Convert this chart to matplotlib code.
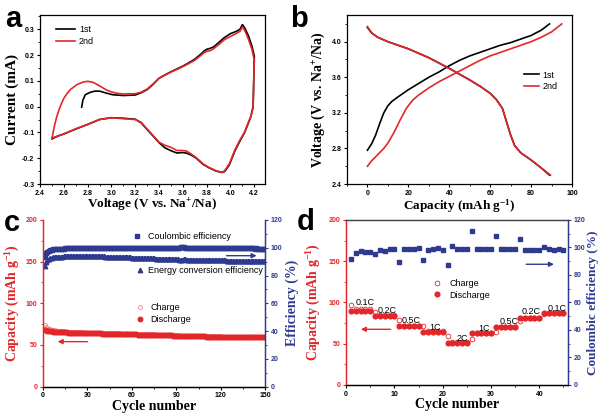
import matplotlib
matplotlib.use("Agg")
import matplotlib.pyplot as plt
from matplotlib.ticker import MultipleLocator

plt.rcParams['font.family'] = ['Liberation Sans', 'DejaVu Sans']
plt.rcParams['mathtext.fontset'] = 'custom'
plt.rcParams['mathtext.rm'] = 'Liberation Serif:bold'
plt.rcParams['mathtext.it'] = 'Liberation Serif:bold'
plt.rcParams['mathtext.bf'] = 'Liberation Serif:bold'
plt.rcParams['mathtext.default'] = 'rm'

RED = '#E3262A'
PINK = '#F08C8C'
BLUE = '#2E3A8F'

# ---------------- Panel a: CV data ----------------
cv1_v = [2.75, 2.76, 2.78, 2.82, 2.86, 2.90, 2.96, 3.01, 3.10, 3.20, 3.25, 3.30, 3.35, 3.40, 3.45,
         3.50, 3.55, 3.60, 3.65, 3.70, 3.75, 3.78, 3.80, 3.83, 3.86, 3.90, 3.95, 4.00, 4.05,
         4.08, 4.10, 4.12, 4.15, 4.18, 4.20, 4.195, 4.19, 4.17, 4.145, 4.117, 4.076, 4.034,
         3.99, 3.95, 3.93, 3.88, 3.82, 3.77, 3.71, 3.67, 3.63, 3.59, 3.55, 3.50, 3.45,
         3.40, 3.35, 3.30, 3.25, 3.20, 3.10, 3.00, 2.90, 2.80, 2.70, 2.60, 2.55, 2.50]
cv1_i = [-0.002, 0.025, 0.046, 0.055, 0.060, 0.060, 0.052, 0.046, 0.043, 0.045, 0.054, 0.066,
         0.086, 0.110, 0.123, 0.135, 0.146, 0.157, 0.170, 0.184, 0.203, 0.216, 0.222, 0.226,
         0.232, 0.248, 0.268, 0.283, 0.292, 0.300, 0.318, 0.305, 0.275, 0.235, 0.195, 0.100,
         0.000, -0.040, -0.070, -0.102, -0.136, -0.175, -0.226, -0.252, -0.255, -0.250,
         -0.237, -0.224, -0.199, -0.188, -0.180, -0.178, -0.180, -0.171, -0.160, -0.140,
         -0.114, -0.089, -0.063, -0.049, -0.045, -0.043, -0.050, -0.069, -0.087, -0.106,
         -0.114, -0.125]
cv2_v = [2.50, 2.51, 2.525, 2.54, 2.56, 2.58, 2.60, 2.63, 2.66, 2.71, 2.76, 2.80, 2.84,
         2.875, 2.92, 2.96, 3.00, 3.04, 3.10, 3.20, 3.25,
         3.30, 3.35, 3.40, 3.45, 3.50, 3.55, 3.60, 3.65, 3.70, 3.75, 3.78, 3.80, 3.83,
         3.86, 3.90, 3.95, 4.00, 4.05, 4.08, 4.10, 4.12, 4.15, 4.18, 4.20, 4.195, 4.19,
         4.17, 4.145, 4.117, 4.076, 4.034, 3.99, 3.95, 3.93, 3.88, 3.82, 3.77, 3.71, 3.67,
         3.63, 3.59, 3.55, 3.50, 3.45, 3.40, 3.35, 3.30, 3.25, 3.20, 3.10, 3.00, 2.90,
         2.80, 2.70, 2.60, 2.55, 2.50]
cv2_i = [-0.125, -0.100, -0.067, -0.040, -0.012, 0.012, 0.032, 0.053, 0.068, 0.085, 0.095,
         0.098, 0.095, 0.087, 0.075, 0.064, 0.057, 0.052, 0.049,
         0.050, 0.056, 0.068, 0.088, 0.110, 0.122, 0.134, 0.144, 0.155, 0.167, 0.180,
         0.198, 0.210, 0.214, 0.217, 0.225, 0.240, 0.260, 0.272, 0.284, 0.292, 0.309,
         0.295, 0.262, 0.222, 0.180, 0.090, -0.005, -0.040, -0.067, -0.100, -0.132,
         -0.171, -0.222, -0.249, -0.255, -0.249, -0.236, -0.222, -0.197, -0.184, -0.172,
         -0.170, -0.170, -0.158, -0.150, -0.138, -0.112, -0.087, -0.061, -0.050, -0.047,
         -0.043, -0.050, -0.069, -0.086, -0.106, -0.114, -0.122]

# ---------------- Panel b: charge/discharge ----------------
ch1_q = [0, 2, 4, 6, 8, 10, 12, 15, 20, 25, 30, 35, 40, 45, 50, 55, 60, 65, 70, 75, 80, 85, 89]
ch1_v = [2.78, 2.85, 2.95, 3.08, 3.20, 3.28, 3.33, 3.38, 3.46, 3.53, 3.60, 3.66, 3.73,
         3.79, 3.84, 3.88, 3.92, 3.96, 3.99, 4.03, 4.07, 4.13, 4.20]
ch2_q = [0, 2, 5, 8, 10, 13, 16, 19, 22, 25, 30, 35, 40, 45, 50, 55, 60, 65, 70, 75, 80, 85, 90, 95]
ch2_v = [2.60, 2.66, 2.73, 2.80, 2.86, 2.98, 3.12, 3.25, 3.34, 3.40, 3.48, 3.55, 3.61,
         3.67, 3.73, 3.79, 3.84, 3.88, 3.92, 3.96, 4.00, 4.05, 4.11, 4.20]
dis1_q = [0, 2, 5, 10, 20, 30, 40, 50, 55, 60, 63, 66, 68, 70, 72, 75, 80, 85, 89]
dis1_v = [4.16, 4.10, 4.05, 4.00, 3.92, 3.82, 3.70, 3.57, 3.50, 3.42, 3.35, 3.25, 3.10,
          2.95, 2.83, 2.75, 2.67, 2.58, 2.50]
dis2_q = [0, 2, 5, 10, 20, 30, 40, 50, 55, 60, 63, 66, 68, 70, 72, 75, 80, 85, 89.5]
dis2_v = [4.17, 4.10, 4.05, 4.00, 3.92, 3.82, 3.70, 3.57, 3.50, 3.42, 3.35, 3.25, 3.10,
          2.95, 2.83, 2.75, 2.67, 2.58, 2.50]

# ---------------- Panel c: 150 cycles ----------------
coulombic_c = [
    93.6, 96.0, 97.2, 97.9, 98.3, 98.6, 98.8, 99.0, 99.1, 99.2,
    99.3, 99.3, 99.4, 99.4, 99.5, 99.5, 99.6, 99.8, 99.6, 99.6,
    99.6, 99.7, 99.6, 99.7, 99.7, 99.6, 99.7, 99.7, 99.8, 99.7,
    99.7, 99.8, 99.7, 99.8, 99.8, 99.7, 99.8, 99.8, 99.8, 99.9,
    99.8, 99.8, 99.9, 99.8, 99.9, 99.8, 99.9, 99.9, 99.8, 99.9,
    99.9, 99.9, 99.8, 99.9, 99.9, 99.9, 100.0, 99.9, 99.9, 99.9,
    99.9, 100.0, 99.9, 99.9, 100.0, 99.9, 99.9, 100.0, 99.9, 99.9,
    100.0, 99.9, 99.9, 99.9, 100.0, 99.9, 99.9, 100.0, 99.9, 99.9,
    99.9, 100.0, 99.9, 99.9, 99.9, 100.0, 99.9, 99.9, 99.9, 100.0,
    99.9, 99.6, 100.6, 100.4, 100.2, 100.1, 100.0, 100.0, 99.9, 100.0,
    99.9, 99.9, 100.0, 99.9, 99.9, 99.9, 100.0, 99.9, 99.8, 99.9,
    99.9, 99.8, 99.9, 99.9, 99.8, 99.9, 99.8, 99.8, 99.9, 99.8,
    99.8, 99.8, 99.7, 99.8, 99.8, 99.7, 99.8, 99.7, 99.7, 99.7,
    99.7, 99.6, 99.7, 99.6, 99.6, 99.7, 99.6, 99.5, 99.6, 99.5,
    99.5, 99.5, 99.4, 99.5, 99.4, 99.4, 99.3, 99.4, 99.3, 99.3]
energy_eff_c = [
    87.0, 89.8, 91.2, 92.0, 92.5, 92.9, 93.1, 93.3, 93.4, 93.5,
    93.6, 93.7, 93.7, 93.8, 93.8, 93.9, 93.9, 94.0, 94.0, 94.0,
    94.0, 94.1, 94.1, 94.1, 94.1, 94.1, 94.2, 94.1, 94.1, 94.1,
    94.1, 94.1, 94.0, 94.0, 94.0, 93.9, 93.9, 93.9, 93.8, 93.8,
    93.8, 93.7, 93.7, 93.6, 93.6, 93.6, 93.5, 93.5, 93.4, 93.4,
    93.3, 93.3, 93.3, 93.2, 93.2, 93.1, 93.1, 93.0, 93.0, 92.9,
    92.9, 92.8, 92.8, 92.7, 92.7, 92.6, 92.6, 92.6, 92.5, 92.5,
    92.4, 92.4, 92.3, 92.3, 92.3, 92.2, 92.2, 92.2, 92.1, 92.1,
    92.1, 92.0, 92.0, 92.0, 91.9, 91.9, 91.9, 91.8, 91.8, 91.8,
    91.6, 91.0, 91.3, 91.5, 91.6, 91.6, 91.5, 91.5, 91.5, 91.4,
    91.4, 91.4, 91.4, 91.3, 91.3, 91.3, 91.3, 91.2, 91.2, 91.2,
    91.2, 91.1, 91.1, 91.1, 91.1, 91.0, 91.0, 91.0, 91.0, 90.9,
    90.9, 90.9, 90.9, 90.8, 90.8, 90.8, 90.8, 90.8, 90.7, 90.7,
    90.7, 90.7, 90.7, 90.6, 90.6, 90.6, 90.6, 90.6, 90.5, 90.5,
    90.5, 90.5, 90.5, 90.5, 90.4, 90.4, 90.4, 90.4, 90.4, 90.3]
charge_c = [
    73.5, 71.2, 70.0, 69.2, 68.6, 68.1, 67.7, 67.4, 67.1, 66.9,
    66.7, 66.5, 66.3, 66.2, 66.0, 65.9, 65.8, 65.7, 65.6, 65.5,
    65.4, 65.3, 65.3, 65.2, 65.1, 65.1, 65.0, 64.9, 64.9, 64.8,
    64.8, 64.7, 64.7, 64.6, 64.6, 64.5, 64.5, 64.4, 64.4, 64.3,
    64.3, 64.2, 64.2, 64.1, 64.1, 64.0, 64.0, 63.9, 63.9, 63.8,
    63.8, 63.7, 63.7, 63.6, 63.6, 63.5, 63.5, 63.4, 63.4, 63.3,
    63.3, 63.2, 63.2, 63.1, 63.1, 63.0, 63.0, 62.9, 62.9, 62.8,
    62.8, 62.7, 62.7, 62.6, 62.6, 62.5, 62.5, 62.4, 62.4, 62.3,
    62.3, 62.2, 62.2, 62.1, 62.1, 62.0, 62.0, 61.9, 61.9, 61.8,
    61.6, 61.0, 61.2, 61.3, 61.3, 61.2, 61.2, 61.1, 61.1, 61.0,
    61.0, 60.9, 60.9, 60.8, 60.8, 60.7, 60.7, 60.6, 60.6, 60.5,
    60.5, 60.4, 60.4, 60.4, 60.3, 60.3, 60.3, 60.2, 60.2, 60.2,
    60.1, 60.1, 60.1, 60.0, 60.0, 60.0, 59.9, 59.9, 59.9, 59.9,
    59.8, 59.8, 59.8, 59.8, 59.7, 59.7, 59.7, 59.7, 59.6, 59.6,
    59.6, 59.6, 59.5, 59.5, 59.5, 59.5, 59.4, 59.4, 59.4, 59.4]
discharge_c = [
    68.5, 67.8, 67.3, 66.9, 66.6, 66.3, 66.1, 65.9, 65.8, 65.6,
    65.5, 65.4, 65.3, 65.2, 65.1, 65.0, 64.9, 64.9, 64.8, 64.7,
    64.7, 64.6, 64.6, 64.5, 64.5, 64.4, 64.4, 64.3, 64.3, 64.2,
    64.2, 64.1, 64.1, 64.0, 64.0, 63.9, 63.9, 63.8, 63.8, 63.7,
    63.7, 63.6, 63.6, 63.5, 63.5, 63.4, 63.4, 63.3, 63.3, 63.2,
    63.2, 63.1, 63.1, 63.0, 63.0, 62.9, 62.9, 62.8, 62.8, 62.7,
    62.7, 62.6, 62.6, 62.5, 62.5, 62.4, 62.4, 62.3, 62.3, 62.2,
    62.2, 62.1, 62.1, 62.0, 62.0, 61.9, 61.9, 61.8, 61.8, 61.7,
    61.7, 61.6, 61.6, 61.5, 61.5, 61.4, 61.4, 61.3, 61.3, 61.2,
    61.0, 60.6, 60.8, 60.9, 60.9, 60.8, 60.8, 60.7, 60.7, 60.6,
    60.6, 60.5, 60.5, 60.4, 60.4, 60.3, 60.3, 60.2, 60.2, 60.1,
    60.1, 60.0, 60.0, 60.0, 59.9, 59.9, 59.9, 59.8, 59.8, 59.8,
    59.7, 59.7, 59.7, 59.6, 59.6, 59.6, 59.5, 59.5, 59.5, 59.5,
    59.4, 59.4, 59.4, 59.4, 59.3, 59.3, 59.3, 59.3, 59.2, 59.2,
    59.2, 59.2, 59.1, 59.1, 59.1, 59.1, 59.0, 59.0, 59.0, 59.0]
cycles_c = list(range(1, len(charge_c) + 1))

# ---------------- Panel d: rate capability ----------------
cycles_d = list(range(1, 46))
charge_d = [97, 92, 92, 92, 92, 88, 85, 85, 85, 85,
            79, 72, 72, 72, 72, 71, 65, 65, 65, 65,
            59, 52, 52, 52, 52, 56, 63, 63, 63, 63,
            64, 70, 70, 70, 70, 77, 81, 81, 81, 81,
            86, 87, 87, 87, 87]
discharge_d = [89.5, 89.5, 89.5, 89.5, 89.5, 83.5, 83.5, 83.5, 83.5, 84,
               71, 71, 71, 71.5, 71, 64, 64, 64, 64, 64,
               51, 51, 51, 51, 51, 63, 63, 63, 63, 63,
               70, 70, 70, 70, 70, 81, 81, 81, 81, 81,
               87, 87, 87, 87, 87]
coulombic_d = [91.5, 96, 97.5, 97, 97, 95.5, 98.5, 97.5, 99, 99,
               89.5, 99, 99, 99, 99.5, 91, 98.5, 99, 99.5, 98.5,
               87, 101, 99, 99, 99, 112, 99, 99, 99, 99,
               108.5, 99, 99, 99, 99, 106.5, 98.5, 98.5, 98.5, 98.5,
               100.5, 99, 98, 99, 98.5]
rate_labels = ['0.1C', '0.2C', '0.5C', '1C', '2C', '1C', '0.5C', '0.2C', '0.1C']
rate_label_x = [2.0, 6.5, 11.6, 17.2, 22.8, 27.4, 31.7, 36.4, 41.7]
rate_label_y = [97, 87, 75, 66.7, 53, 65.5, 74, 86, 90]

# ================= Figure =================
fig = plt.figure(figsize=(6, 4.15), dpi=100)
SERIF = 'Liberation Serif'
TICKFS = 5
LEGFS = 6.5


def style_ticks(ax):
    ax.tick_params(axis='both', which='major', direction='out', length=2.5, width=0.8,
                   labelsize=TICKFS, pad=1.5)
    ax.tick_params(axis='both', which='minor', direction='out', length=1.5, width=0.6)
    for lab in ax.get_xticklabels() + ax.get_yticklabels():
        lab.set_fontweight('bold')


# ---- a ----
axa = fig.add_axes([0.0667, 0.5566, 0.375, 0.4072])
axa.plot(cv1_v, cv1_i, color='black', lw=1.2, label='1st')
axa.plot(cv2_v, cv2_i, color=RED, lw=1.2, label='2nd')
axa.set_xlim(2.4, 4.29)
axa.set_ylim(-0.3, 0.355)
axa.xaxis.set_minor_locator(MultipleLocator(0.1))
axa.yaxis.set_minor_locator(MultipleLocator(0.05))
axa.set_xticks([2.4, 2.6, 2.8, 3.0, 3.2, 3.4, 3.6, 3.8, 4.0, 4.2])
axa.set_xticklabels(['2.4', '2.6', '2.8', '3.0', '3.2', '3.4', '3.6', '3.8', '4.0', '4.2'])
axa.set_yticks([-0.3, -0.2, -0.1, 0.0, 0.1, 0.2, 0.3])
axa.set_yticklabels(['-0.3', '-0.2', '-0.1', '0.0', '0.1', '0.2', '0.3'])
style_ticks(axa)
axa.set_xlabel('Voltage (V vs. Na$^{+}$/Na)', family=SERIF, fontweight='bold', fontsize=9.5, labelpad=0.5)
axa.set_ylabel('Current (mA)', family=SERIF, fontweight='bold', fontsize=11, labelpad=2)
axa.legend(loc='upper left', bbox_to_anchor=(0.045, 0.98), frameon=False, fontsize=LEGFS,
           handlelength=2.0, handletextpad=0.5, labelspacing=0.35, borderpad=0.2)
for s in axa.spines.values():
    s.set_linewidth(0.9)

# ---- b ----
axb = fig.add_axes([0.5783, 0.5566, 0.375, 0.4072])
axb.plot(ch1_q, ch1_v, color='black', lw=1.2, label='1st')
axb.plot(dis1_q, dis1_v, color='black', lw=1.2)
axb.plot(ch2_q, ch2_v, color=RED, lw=1.2, label='2nd')
axb.plot(dis2_q, dis2_v, color=RED, lw=1.2)
axb.set_xlim(-10, 100)
axb.set_ylim(2.4, 4.3)
axb.xaxis.set_major_locator(MultipleLocator(20))
axb.xaxis.set_minor_locator(MultipleLocator(10))
axb.set_yticks([2.4, 2.8, 3.2, 3.6, 4.0])
axb.set_yticklabels(['2.4', '2.8', '3.2', '3.6', '4.0'])
axb.yaxis.set_minor_locator(MultipleLocator(0.2))
style_ticks(axb)
axb.set_xlabel('Capacity (mAh g$^{-1}$)', family=SERIF, fontweight='bold', fontsize=9.5, labelpad=0.5)
axb.set_ylabel('Voltage (V vs. Na$^{+}$/Na)', family=SERIF, fontweight='bold', fontsize=10, labelpad=3)
axb.legend(loc='center left', bbox_to_anchor=(0.76, 0.61), frameon=False, fontsize=LEGFS,
           handlelength=1.6, handletextpad=0.4, labelspacing=0.3, borderpad=0.2)
for s in axb.spines.values():
    s.set_linewidth(0.9)

# ---- c ----
axc = fig.add_axes([0.0717, 0.0683, 0.3705, 0.4016])
axc2 = axc.twinx()
axc.plot(cycles_c, charge_c, linestyle='none', marker='o', ms=3, mfc='none', mec=PINK, mew=0.6,
         label='Charge')
axc.plot(cycles_c, discharge_c, linestyle='none', marker='o', ms=3.2, color=RED, mec=RED,
         label='Discharge')
axc2.plot(cycles_c, coulombic_c, linestyle='none', marker='s', ms=3, color=BLUE,
          label='Coulombic efficiency')
axc2.plot(cycles_c, energy_eff_c, linestyle='none', marker='^', ms=3.2, color=BLUE,
          label='Energy conversion efficiency')
axc.set_xlim(0, 150)
axc.set_ylim(0, 200)
axc2.set_ylim(0, 120)
axc.xaxis.set_major_locator(MultipleLocator(30))
axc.xaxis.set_minor_locator(MultipleLocator(15))
axc.yaxis.set_major_locator(MultipleLocator(50))
axc.yaxis.set_minor_locator(MultipleLocator(25))
axc2.yaxis.set_major_locator(MultipleLocator(20))
axc2.yaxis.set_minor_locator(MultipleLocator(10))
style_ticks(axc)
style_ticks(axc2)
axc.tick_params(axis='y', which='both', colors=RED)
axc2.tick_params(axis='y', which='both', colors=BLUE)
for ax in (axc, axc2):
    ax.spines['left'].set_color(RED)
    ax.spines['right'].set_color(BLUE)
    ax.spines['top'].set_visible(False)
    for s in ax.spines.values():
        s.set_linewidth(0.9)
axc.set_xlabel('Cycle number', family=SERIF, fontweight='bold', fontsize=10, labelpad=0.5)
axc.set_ylabel('Capacity (mAh g$^{-1}$)', family=SERIF, fontweight='bold', fontsize=10,
               color=RED, labelpad=3)
axc2.set_ylabel('Efficiency (%)', family=SERIF, fontweight='bold', fontsize=10, color=BLUE, labelpad=2)
axc.annotate('', xy=(8, 54), xytext=(32, 54),
             arrowprops=dict(arrowstyle='-|>', color=RED, lw=1.0, mutation_scale=7))
axc2.annotate('', xy=(146, 94.3), xytext=(122, 94.3),
              arrowprops=dict(arrowstyle='-|>', color=BLUE, lw=1.0, mutation_scale=7))
h2, l2 = axc2.get_legend_handles_labels()
h1, l1 = axc.get_legend_handles_labels()
leg1 = axc2.legend([h2[0]], [l2[0]], loc='center left', bbox_to_anchor=(0.40, 0.90),
                   frameon=False, fontsize=LEGFS, handlelength=1.2, handletextpad=0.6,
                   borderpad=0, borderaxespad=0)
axc2.add_artist(leg1)
leg2 = axc2.legend([h2[1]], [l2[1]], loc='center left', bbox_to_anchor=(0.41, 0.696),
                   frameon=False, fontsize=LEGFS, handlelength=1.2, handletextpad=0.3,
                   borderpad=0, borderaxespad=0)
axc2.add_artist(leg2)
axc2.legend(h1, l1, loc='center left', bbox_to_anchor=(0.41, 0.44),
            frameon=False, fontsize=LEGFS, handlelength=1.2, handletextpad=0.6,
            labelspacing=0.3, borderpad=0, borderaxespad=0)

# ---- d ----
axd = fig.add_axes([0.5767, 0.0723, 0.3705, 0.3976])
axd2 = axd.twinx()
axd.plot(cycles_d, charge_d, linestyle='none', marker='o', ms=3.4, mfc='none', mec=RED, mew=0.6,
         label='Charge')
axd.plot(cycles_d, discharge_d, linestyle='none', marker='o', ms=3.4, color=RED, mec=RED,
         label='Discharge')
axd2.plot(cycles_d, coulombic_d, linestyle='none', marker='s', ms=3.2, color=BLUE)
for txt, x, y in zip(rate_labels, rate_label_x, rate_label_y):
    axd.text(x, y, txt, fontsize=6.5, ha='left', va='baseline')
axd.set_xlim(0, 46)
axd.set_ylim(0, 200)
axd2.set_ylim(0, 120)
axd.xaxis.set_major_locator(MultipleLocator(10))
axd.xaxis.set_minor_locator(MultipleLocator(5))
axd.yaxis.set_major_locator(MultipleLocator(50))
axd.yaxis.set_minor_locator(MultipleLocator(25))
axd2.yaxis.set_major_locator(MultipleLocator(20))
axd2.yaxis.set_minor_locator(MultipleLocator(10))
style_ticks(axd)
style_ticks(axd2)
axd.tick_params(axis='y', which='both', colors=RED)
axd2.tick_params(axis='y', which='both', colors=BLUE)
for ax in (axd, axd2):
    ax.spines['left'].set_color(RED)
    ax.spines['right'].set_color(BLUE)
    ax.spines['top'].set_color('#444444')
    for s in ax.spines.values():
        s.set_linewidth(0.9)
axd.set_xlabel('Cycle number', family=SERIF, fontweight='bold', fontsize=10, labelpad=0.5)
axd.set_ylabel('Capacity (mAh g$^{-1}$)', family=SERIF, fontweight='bold', fontsize=10,
               color=RED, labelpad=4)
axd2.set_ylabel('Coulombic efficiency (%)', family=SERIF, fontweight='bold', fontsize=9.5,
                color=BLUE, labelpad=1)
axd.annotate('', xy=(2.5, 67.5), xytext=(9.8, 67.5),
             arrowprops=dict(arrowstyle='-|>', color=RED, lw=1.0, mutation_scale=7))
axd2.annotate('', xy=(43.6, 87.8), xytext=(36.7, 87.8),
              arrowprops=dict(arrowstyle='-|>', color=BLUE, lw=1.0, mutation_scale=7))
hd, ld = axd.get_legend_handles_labels()
axd2.legend(hd, ld, loc='center left', bbox_to_anchor=(0.385, 0.58), frameon=False,
            fontsize=LEGFS, handlelength=1.2, handletextpad=0.8, labelspacing=0.3,
            borderpad=0, borderaxespad=0)

# panel letters
for letter, x, y in [('a', 0.008, 0.935), ('b', 0.484, 0.935), ('c', 0.006, 0.443), ('d', 0.495, 0.446)]:
    fig.text(x, y, letter, fontsize=21, fontweight='bold', family='Liberation Sans', va='baseline')

fig.savefig('out.png', dpi=100)
